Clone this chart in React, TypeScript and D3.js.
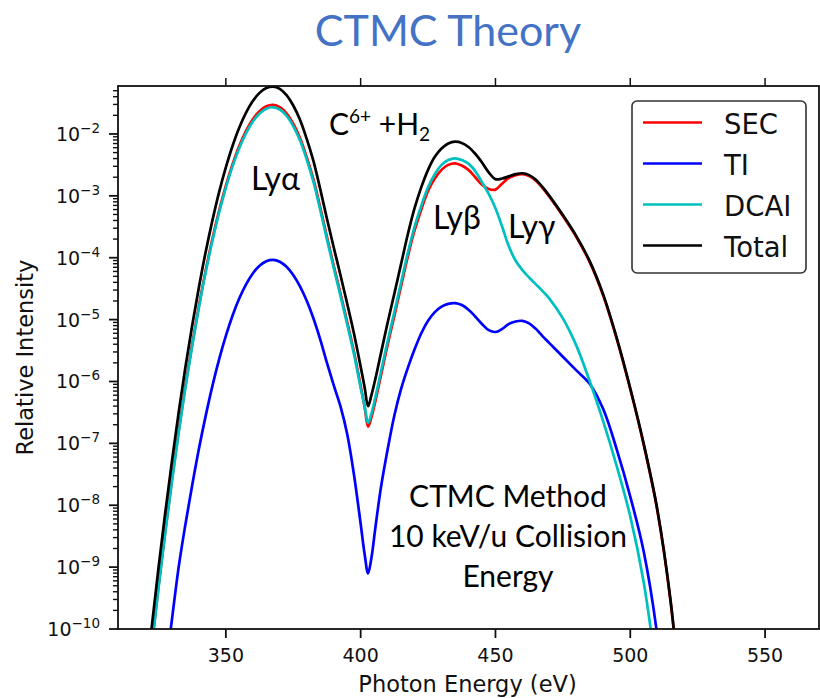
import React from 'react';
import * as d3 from 'd3';

// Photon energy grid (eV)
const energies = [
  317.5, 320, 322.5, 325, 327.5, 330, 332.5, 335, 337.5, 340,
  342.5, 345, 347.5, 350, 352.5, 355, 357.5, 360, 362.5, 365,
  367.5, 370, 372.5, 375, 377.5, 380, 382.5, 385, 387.5, 390,
  392.5, 395, 397.5, 400, 401.5, 402.75, 404, 405.5, 407.5, 410,
  412.5, 415, 417.5, 420, 422.5, 425, 427.5, 430, 432.5, 435,
  437.5, 440, 442.5, 445, 447.5, 450, 452.5, 455, 457.5, 460,
  462.5, 465, 467.5, 470, 475, 480, 485, 490, 495, 500,
  505, 510, 515, 520,
];

// log10 of relative intensity
const secLog10 = [
  -12.32, -11.27, -10.27, -9.32, -8.43, -7.59, -6.8, -6.07, -5.4, -4.78,
  -4.21, -3.7, -3.24, -2.84, -2.49, -2.19, -1.95, -1.763, -1.631, -1.554,
  -1.531, -1.567, -1.666, -1.835, -2.065, -2.375, -2.735, -3.185, -3.665, -4.125,
  -4.575, -5.035, -5.515, -6.07, -6.42, -6.73, -6.58, -6.31, -5.91, -5.41,
  -4.94, -4.46, -3.98, -3.56, -3.22, -2.92, -2.72, -2.58, -2.5, -2.474,
  -2.51, -2.58, -2.7, -2.82, -2.89, -2.9, -2.8, -2.71, -2.665, -2.65,
  -2.68, -2.755, -2.875, -3.015, -3.325, -3.665, -4.075, -4.615, -5.315, -6.125,
  -7.025, -8.075, -9.575, -11.82,
];

const tiLog10 = [
  -14.2, -13.2, -12.3, -11.6, -10.7, -9.85, -9.0, -8.31, -7.68, -7.09,
  -6.56, -6.075, -5.643, -5.263, -4.934, -4.656, -4.43, -4.254, -4.13, -4.058,
  -4.036, -4.066, -4.147, -4.279, -4.463, -4.697, -4.983, -5.32, -5.7, -6.06,
  -6.4, -6.85, -7.5, -8.3, -8.8, -9.1, -8.85, -8.35, -7.72, -7.1,
  -6.55, -6.12, -5.78, -5.48, -5.22, -5.02, -4.88, -4.79, -4.745, -4.735,
  -4.765, -4.84, -4.95, -5.07, -5.17, -5.2, -5.15, -5.07, -5.03, -5.02,
  -5.06, -5.15, -5.27, -5.38, -5.6, -5.82, -6.04, -6.45, -7.1, -7.86,
  -8.75, -10.1, -12.3, -14.5,
];

const dcaiLog10 = [
  -12.35, -11.3, -10.3, -9.35, -8.46, -7.62, -6.83, -6.1, -5.43, -4.81,
  -4.24, -3.73, -3.27, -2.87, -2.52, -2.227, -1.987, -1.801, -1.669, -1.592,
  -1.569, -1.605, -1.704, -1.873, -2.103, -2.413, -2.773, -3.223, -3.703, -4.163,
  -4.613, -5.073, -5.553, -6.1, -6.4, -6.67, -6.52, -6.25, -5.85, -5.35,
  -4.88, -4.4, -3.92, -3.5, -3.16, -2.86, -2.65, -2.5, -2.42, -2.393,
  -2.42, -2.48, -2.6, -2.78, -2.97, -3.2, -3.5, -3.82, -4.05, -4.2,
  -4.32, -4.43, -4.54, -4.66, -4.98, -5.42, -6.0, -6.65, -7.37, -8.18,
  -9.25, -10.8, -12.6, -14.6,
];

const totalLog10 = [
  -12.02, -10.97, -9.97, -9.02, -8.13, -7.29, -6.5, -5.77, -5.1, -4.48,
  -3.91, -3.4, -2.94, -2.54, -2.19, -1.894, -1.654, -1.468, -1.336, -1.259,
  -1.236, -1.272, -1.371, -1.54, -1.77, -2.08, -2.44, -2.89, -3.37, -3.83,
  -4.28, -4.74, -5.22, -5.76, -6.1, -6.4, -6.22, -5.95, -5.55, -5.05,
  -4.58, -4.1, -3.62, -3.2, -2.86, -2.58, -2.37, -2.235, -2.155, -2.125,
  -2.145, -2.21, -2.32, -2.46, -2.62, -2.73, -2.72, -2.685, -2.65, -2.635,
  -2.665, -2.74, -2.86, -3.0, -3.31, -3.65, -4.06, -4.6, -5.3, -6.11,
  -7.01, -8.06, -9.56, -11.8,
];

const seriesNames = ['SEC', 'TI', 'DCAI', 'Total'];
const seriesColors = ['#ff0000', '#0000ff', '#00bfbf', '#000000'];
const seriesLog10 = [secLog10, tiLog10, dcaiLog10, totalLog10];

const xTicks = [350, 400, 450, 500, 550];
const yTickExponents = [-10, -9, -8, -7, -6, -5, -4, -3, -2];

const W = 820;
const H = 698;
const M = { left: 118, right: 819, top: 86, bottom: 629 };

export default function App() {
  const x = d3.scaleLinear().domain([310, 570]).range([M.left, M.right]);
  const y = d3.scaleLog().domain([1e-10, Math.pow(10, -1.225)]).range([M.bottom, M.top]);

  const line = d3
    .line<[number, number]>()
    .x((d) => x(d[0]))
    .y((d) => y(d[1]))
    .curve(d3.curveCatmullRom.alpha(0.5));

  const paths = seriesLog10.map((arr) =>
    line(energies.map((e, i) => [e, Math.pow(10, arr[i])] as [number, number]))
  );

  const [yMin, yMax] = y.domain();
  const minorTicks: number[] = [];
  for (let k = -10; k <= -2; k++) {
    for (let m = 2; m <= 9; m++) {
      const v = m * Math.pow(10, k);
      if (v > yMin && v < yMax) minorTicks.push(v);
    }
  }

  const axisFont = 'DejaVu Sans, sans-serif';
  const annFont = 'Lato, Carlito, "Open Sans", sans-serif';

  return (
    <svg
      width={W}
      height={H}
      style={{ position: 'absolute', left: 0, top: 0, background: '#fff' }}
    >
      <defs>
        <clipPath id="plotClip">
          <rect x={M.left} y={M.top} width={M.right - M.left} height={M.bottom - M.top} />
        </clipPath>
      </defs>
      <rect x={0} y={0} width={W} height={H} fill="#fff" />

      {/* Title */}
      <text x={448} y={46} textAnchor="middle" fontFamily={annFont} fontSize={43} fill="#4472c4">
        CTMC Theory
      </text>

      {/* Series */}
      <g clipPath="url(#plotClip)">
        {paths.map((p, i) => (
          <path key={seriesNames[i]} d={p || ''} fill="none" stroke={seriesColors[i]} strokeWidth={2.7} strokeLinejoin="round" />
        ))}
      </g>

      {/* Frame */}
      <rect x={M.left} y={M.top} width={M.right - M.left} height={M.bottom - M.top} fill="none" stroke="#111" strokeWidth={1.8} />

      {/* X ticks bottom and top */}
      {xTicks.map((t) => (
        <g key={'xt' + t}>
          <line x1={x(t)} x2={x(t)} y1={M.bottom} y2={M.bottom + 9} stroke="#111" strokeWidth={1.8} />
          <line x1={x(t)} x2={x(t)} y1={M.top} y2={M.top - 8} stroke="#111" strokeWidth={1.5} />
          <text x={x(t)} y={M.bottom + 33} textAnchor="middle" fontFamily={axisFont} fontSize={19} fill="#111">
            {t}
          </text>
        </g>
      ))}

      {/* Y ticks */}
      {minorTicks.map((v, i) => (
        <line key={'ym' + i} x1={M.left - 5} x2={M.left} y1={y(v)} y2={y(v)} stroke="#111" strokeWidth={1.4} />
      ))}
      {yTickExponents.map((e) => {
        const yy = y(Math.pow(10, e));
        return (
          <g key={'yt' + e}>
            <line x1={M.left - 9} x2={M.left} y1={yy} y2={yy} stroke="#111" strokeWidth={1.8} />
            <text x={100} y={yy + 7} textAnchor="end" fontFamily={axisFont} fontSize={19} fill="#111">
              10
              <tspan fontSize={13.5} dy={-8}>
                {'\u2212' + String(-e)}
              </tspan>
            </text>
          </g>
        );
      })}

      {/* Axis labels */}
      <text x={(M.left + M.right) / 2 - 1} y={692} textAnchor="middle" fontFamily={axisFont} fontSize={22.5} fill="#111">
        Photon Energy (eV)
      </text>
      <text
        transform={`translate(33, ${(M.top + M.bottom) / 2}) rotate(-90)`}
        textAnchor="middle"
        fontFamily={axisFont}
        fontSize={22.5}
        fill="#111"
      >
        Relative Intensity
      </text>

      {/* Legend */}
      <g>
        <rect x={632} y={101} width={174} height={172} rx={5} ry={5} fill="#fff" stroke="#333" strokeWidth={1.6} />
        {seriesNames.map((n, i) => {
          const ly = 122.5 + i * 41;
          return (
            <g key={'lg' + n}>
              <line x1={643} x2={702} y1={ly} y2={ly} stroke={seriesColors[i]} strokeWidth={2.7} />
              <text x={724} y={ly + 11} fontFamily={axisFont} fontSize={27.5} fill="#111">
                {n}
              </text>
            </g>
          );
        })}
      </g>

      {/* Annotations */}
      <text x={251} y={190} fontFamily={annFont} fontSize={32} fill="#000">
        Lyα
      </text>
      <text x={329} y={135} fontFamily={annFont} fontSize={30} fill="#000">
        C
        <tspan fontSize={19} dy={-12}>6+</tspan>
        <tspan fontSize={30} dy={12}>{' +H'}</tspan>
        <tspan fontSize={19} dy={6}>2</tspan>
      </text>
      <text x={433} y={229} fontFamily={annFont} fontSize={32} fill="#000">
        Lyβ
      </text>
      <text x={508} y={238} fontFamily={annFont} fontSize={32} fill="#000">
        Lyγ
      </text>
      <text x={508} y={507} textAnchor="middle" fontFamily={annFont} fontSize={30} fill="#000">
        CTMC Method
      </text>
      <text x={508} y={547} textAnchor="middle" fontFamily={annFont} fontSize={30} fill="#000">
        10 keV/u Collision
      </text>
      <text x={508} y={587} textAnchor="middle" fontFamily={annFont} fontSize={30} fill="#000">
        Energy
      </text>
    </svg>
  );
}
